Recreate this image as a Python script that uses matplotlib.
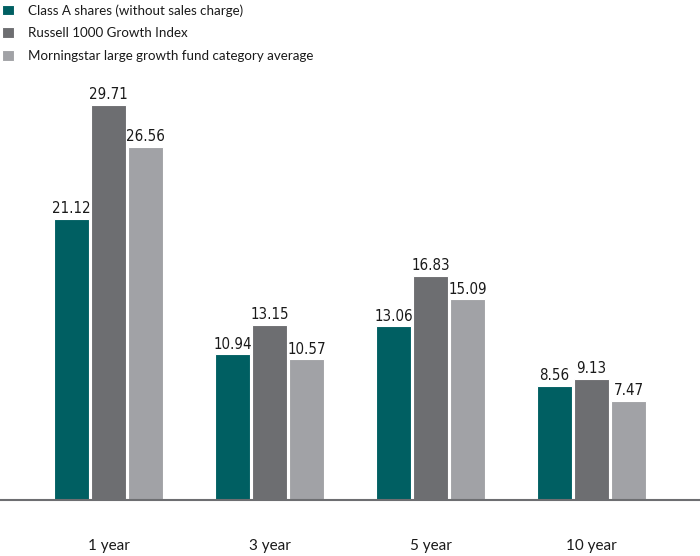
import matplotlib
matplotlib.use("Agg")
import matplotlib.pyplot as plt
import numpy as np

categories = ["1 year", "3 year", "5 year", "10 year"]
series_names = ["Class A shares (without sales charge)",
                "Russell 1000 Growth Index",
                "Morningstar large growth fund category average"]
class_a = [21.12, 10.94, 13.06, 8.56]
russell = [29.71, 13.15, 16.83, 9.13]
morningstar = [26.56, 10.57, 15.09, 7.47]
colors = ["#005f62", "#6d6e71", "#a1a2a6"]

W, H = 700, 556
fig = plt.figure(figsize=(W / 100, H / 100), dpi=100)
base_px = 500
ymax = 35
px_per_unit = 13.3
ax = fig.add_axes([0, (H - base_px) / H, 1, ymax * px_per_unit / H])

spacing = 161
x0 = 108.5
ax.set_xlim(-x0 / spacing, (W - x0) / spacing)
ax.set_ylim(0, ymax)

x = np.arange(len(categories))
width = 35 / spacing
step = 37 / spacing
for i, (vals, name, c) in enumerate(zip([class_a, russell, morningstar], series_names, colors)):
    bars = ax.bar(x + (i - 1) * step, vals, width, color=c, edgecolor="white",
                  linewidth=0.8, label=name)
    for b, v in zip(bars, vals):
        ax.annotate(f"{v:.2f}", (b.get_x() + b.get_width() / 2, v), xytext=(0, 2),
                    textcoords="offset points", ha="center", va="bottom",
                    fontsize=10.8, family="DejaVu Sans", fontstretch="condensed",
                    color="#1a1a1a")

for s in ["top", "right", "left"]:
    ax.spines[s].set_visible(False)
ax.spines["bottom"].set_color("#6d6e71")
ax.spines["bottom"].set_linewidth(1.5)
ax.set_yticks([])
ax.set_xticks(x)
ax.set_xticklabels(categories, fontsize=11, family=["Lato", "DejaVu Sans"], color="#1a1a1a")
ax.tick_params(axis="x", length=0, pad=28)

leg = fig.legend(loc="upper left", bbox_to_anchor=(-0.014, 1.014), frameon=False,
                 handlelength=0.85, handleheight=0.85, handletextpad=1.1,
                 labelspacing=0.8, prop={"family": ["Lato", "DejaVu Sans"], "size": 9.6})
for t in leg.get_texts():
    t.set_color("#1a1a1a")

fig.savefig("out.png", dpi=100)
